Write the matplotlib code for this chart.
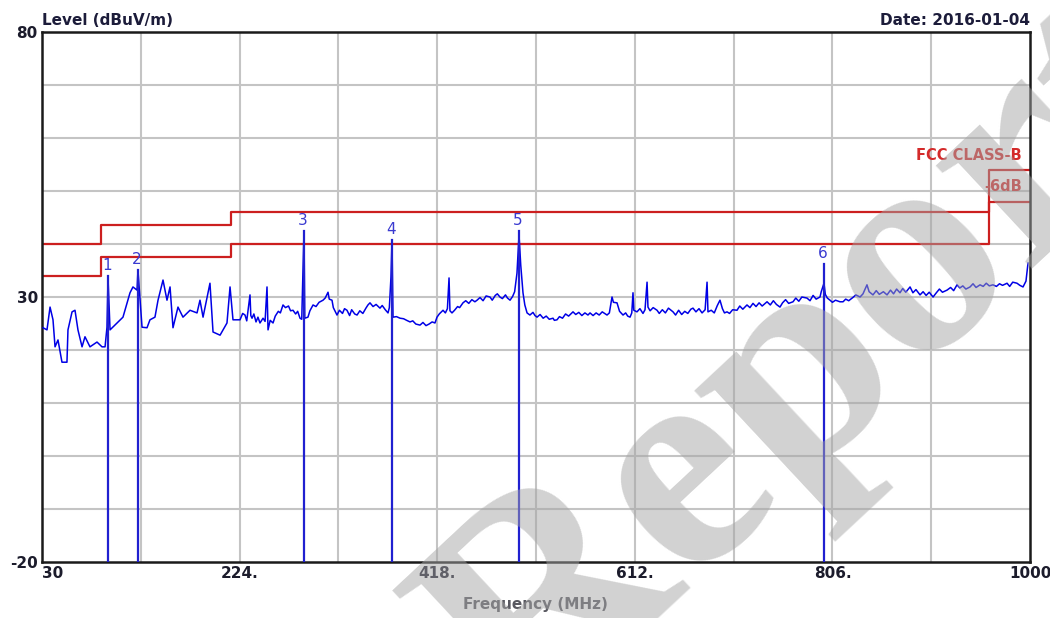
import matplotlib
matplotlib.use("Agg")
import matplotlib.pyplot as plt
import numpy as np

freq = [31.0, 34.9, 37.9, 40.8, 42.8, 45.7, 49.6, 54.5, 55.5, 59.5,
        62.4, 65.3, 69.3, 72.2, 77.1, 84.0, 88.9, 91.9, 93.8, 94.8,
        96.8, 103.6, 109.5, 116.4, 119.3, 123.3, 124.2, 128.2, 133.1, 136.0,
        140.9, 143.9, 148.8, 152.7, 155.7, 158.6, 163.5, 168.4, 175.3, 182.2,
        185.1, 188.1, 194.9, 197.9, 204.8, 211.6, 214.6, 217.5, 224.4, 227.0,
        229.3, 231.0, 234.2, 235.0, 236.2, 238.0, 240.1, 242.0, 244.0, 247.0,
        249.0, 250.9, 251.9, 254.0, 256.8, 259.0, 262.0, 264.0, 266.6, 269.0,
        272.0, 274.0, 276.4, 279.0, 281.0, 283.3, 285.0, 286.2, 287.2, 288.0,
        291.1, 293.0, 296.1, 299.0, 302.0, 305.9, 308.0, 310.8, 312.0, 314.7,
        316.0, 319.6, 322.0, 325.0, 327.0, 329.4, 332.0, 334.0, 337.0, 339.3,
        342.0, 345.0, 348.0, 350.0, 352.0, 355.0, 358.0, 361.8, 364.0, 367.0,
        369.7, 371.0, 372.6, 373.6, 374.6, 378.0, 381.5, 385.0, 388.0, 391.3,
        394.0, 397.0, 401.1, 404.0, 407.0, 410.0, 413.0, 415.8, 417.8, 420.0,
        423.7, 426.0, 428.0, 429.6, 430.5, 432.5, 435.0, 438.0, 440.0, 443.3,
        446.0, 449.0, 452.0, 455.0, 457.1, 460.0, 463.0, 466.0, 469.8, 472.0,
        475.0, 477.0, 479.6, 482.0, 485.0, 487.0, 489.5, 492.0, 494.0, 496.3,
        498.3, 500.0, 502.2, 504.0, 506.2, 509.0, 512.0, 514.0, 516.0, 519.0,
        522.0, 525.0, 528.0, 531.7, 533.0, 535.6, 538.0, 541.0, 544.0, 547.0,
        551.3, 554.0, 557.0, 560.0, 563.0, 566.0, 568.0, 571.0, 574.0, 577.0,
        580.0, 584.7, 587.0, 589.6, 591.0, 594.5, 597.0, 600.4, 603.0, 605.0,
        607.3, 609.0, 610.2, 611.0, 614.1, 617.0, 620.0, 622.0, 624.0, 624.9,
        627.0, 630.0, 633.8, 636.0, 639.0, 642.0, 645.0, 649.5, 652.0, 655.0,
        658.0, 661.0, 664.0, 667.0, 669.1, 672.0, 675.0, 678.0, 681.0, 682.9,
        683.8, 687.0, 690.0, 693.0, 695.6, 698.0, 700.0, 702.5, 705.0, 708.0,
        712.3, 715.0, 718.0, 722.1, 725.0, 728.0, 731.0, 734.0, 737.0, 741.8,
        745.0, 748.0, 751.0, 754.5, 757.0, 760.0, 763.0, 767.3, 770.0, 773.0,
        776.0, 781.0, 784.0, 787.0, 790.0, 793.8, 795.0, 797.7, 799.0, 801.0,
        803.6, 806.0, 809.0, 813.4, 816.4, 819.0, 822.0, 826.0, 829.0, 833.1,
        836.0, 839.9, 842.0, 845.8, 849.0, 852.0, 856.0, 859.6, 863.0, 866.0,
        869.0, 872.3, 875.0, 878.0, 882.2, 885.0, 888.0, 892.0, 895.0, 898.0,
        901.0, 904.8, 908.0, 911.0, 914.0, 918.5, 922.0, 925.0, 928.3, 931.0,
        934.0, 937.0, 941.1, 944.0, 947.0, 950.9, 954.0, 957.0, 960.0, 963.6,
        967.0, 970.0, 973.0, 977.4, 980.0, 983.0, 987.2, 990.0, 993.1, 996.0,
        998.0]
level = [24.2, 23.8, 28.1, 25.7, 20.6, 21.9, 17.7, 17.7, 23.8, 27.2,
         27.5, 23.8, 20.6, 22.5, 20.6, 21.5, 20.6, 20.6, 24.3, 33.6,
         23.8, 25.1, 26.2, 30.8, 31.9, 31.3, 35.1, 24.3, 24.2, 25.7,
         26.2, 29.4, 33.2, 29.4, 31.9, 24.2, 28.1, 26.2, 27.5, 27.0,
         29.4, 26.2, 32.6, 23.4, 22.8, 25.1, 31.9, 25.7, 25.7, 26.9,
         26.6, 25.5, 30.4, 26.5, 26.0, 26.8, 25.3, 26.2, 25.1, 26.0,
         25.4, 31.9, 23.8, 25.6, 25.1, 26.4, 27.3, 27.0, 28.5, 28.0,
         28.3, 27.4, 27.5, 26.8, 27.3, 26.0, 25.8, 34.5, 42.5, 26.0,
         26.2, 27.4, 28.5, 28.2, 29.0, 29.4, 29.8, 30.9, 29.6, 29.4,
         28.0, 26.6, 27.5, 26.9, 27.8, 27.5, 26.5, 27.6, 26.8, 26.6,
         27.4, 26.9, 27.9, 28.5, 28.9, 28.2, 28.6, 27.9, 28.4, 27.6,
         27.0, 28.0, 33.8, 40.8, 26.2, 26.3, 26.0, 25.9, 25.6, 25.3,
         25.5, 24.9, 24.7, 25.2, 24.6, 24.9, 25.3, 25.1, 26.2, 26.8,
         27.5, 27.0, 27.8, 33.6, 27.4, 27.0, 27.5, 28.2, 28.0, 28.9,
         29.3, 28.8, 29.5, 29.1, 29.4, 29.9, 29.3, 30.2, 30.0, 29.4,
         30.3, 30.6, 30.0, 29.7, 30.4, 29.8, 29.4, 30.1, 31.0, 34.5,
         41.7, 36.0, 30.8, 28.5, 27.0, 26.6, 27.1, 26.5, 26.2, 26.7,
         26.0, 26.4, 25.8, 26.0, 25.6, 25.7, 26.3, 26.0, 26.8, 26.4,
         27.2, 26.7, 27.1, 26.5, 27.0, 26.6, 27.0, 26.5, 27.0, 26.6,
         27.2, 26.6, 27.0, 30.0, 29.0, 28.9, 27.3, 26.6, 27.0, 26.4,
         26.2, 27.0, 30.8, 27.5, 27.2, 27.8, 26.9, 27.6, 32.8, 28.1,
         27.4, 28.0, 27.5, 26.9, 27.6, 27.0, 27.9, 27.2, 26.6, 27.5,
         26.7, 27.3, 26.9, 27.7, 27.9, 27.2, 27.8, 27.0, 27.6, 32.8,
         27.2, 27.5, 27.0, 28.4, 29.4, 27.8, 27.0, 27.2, 26.9, 27.6,
         27.5, 28.3, 27.7, 28.5, 28.0, 28.8, 28.2, 28.9, 28.3, 29.1,
         28.5, 29.3, 28.6, 28.1, 28.9, 29.5, 28.8, 29.1, 29.8, 29.2,
         30.0, 29.8, 29.3, 30.3, 29.6, 30.0, 31.0, 32.6, 30.5, 29.8,
         29.4, 29.0, 29.4, 29.1, 29.1, 29.6, 29.3, 29.9, 30.4, 30.0,
         30.6, 32.3, 31.0, 30.4, 31.2, 30.5, 31.0, 30.4, 31.3, 30.6,
         31.5, 30.8, 31.6, 30.9, 31.9, 30.8, 31.4, 30.4, 31.0, 30.3,
         30.9, 30.0, 30.8, 31.5, 30.9, 31.3, 31.8, 31.2, 32.3, 31.7,
         32.1, 31.5, 31.9, 32.5, 31.8, 32.3, 32.0, 32.6, 32.1, 32.3,
         32.0, 32.5, 32.2, 32.6, 32.0, 32.8, 32.6, 32.2, 31.9, 33.0,
         36.4]

# FCC class B limit and -6 dB margin (step edges)
lim_f = [30, 88, 88, 216, 216, 960, 960, 1000]
lim_l = [40, 40, 43.5, 43.5, 46, 46, 54, 54]
mar_l = [34, 34, 37.5, 37.5, 40, 40, 48, 48]

# markers
mk_f = [94.8, 124.2, 287.2, 373.6, 498.3, 797.7]
mk_l = [34.0, 35.1, 42.5, 40.8, 42.5, 36.2]

xticks = [30, 224, 418, 612, 806, 1000]
xlabels = ["30", "224.", "418.", "612.", "806.", "1000"]

fig = plt.figure(figsize=(10.5, 6.18), dpi=100)
ax = fig.add_axes([0.04, 0.0906, 0.941, 0.8576])

ax.set_xlim(30, 1000)
ax.set_ylim(-20, 80)
for gx in np.linspace(30, 1000, 11)[1:-1]:
    ax.axvline(gx, color='#c4c4c4', lw=1.5, zorder=0)
for gy in range(-10, 80, 10):
    ax.axhline(gy, color='#c4c4c4', lw=1.5, zorder=0)

ax.plot(lim_f, lim_l, color='#cc1f1f', lw=1.6, zorder=2)
ax.plot(lim_f, mar_l, color='#cc1f1f', lw=1.6, zorder=2)

ax.plot(freq, level, color='#0000e6', lw=1.1, zorder=3)

for i, (f, l) in enumerate(zip(mk_f, mk_l)):
    ax.plot([f, f], [-20, l], color='#2020d0', lw=1.6, zorder=4)
    ax.text(f - 1, l + 0.6, str(i + 1), color='#3a3ad0', fontsize=11,
            ha='center', va='bottom', zorder=5)

ax.text(992, 55.3, "FCC CLASS-B", color='#d42a2a', fontsize=10.5, weight='bold',
        ha='right', va='bottom')
ax.text(992, 49.5, "-6dB", color='#d42a2a', fontsize=10.5, weight='bold',
        ha='right', va='bottom')

ax.set_xticks(xticks)
ax.set_xticklabels(xlabels, fontsize=11, weight='bold', color='#1c1c2c')
ax.get_xticklabels()[0].set_ha('left')
ax.set_yticks([-20, 30, 80])
ax.set_yticklabels(["-20", "30", "80"], fontsize=11, weight='bold', color='#1c1c2c')
ax.tick_params(length=0, pad=3)
for s in ax.spines.values():
    s.set_linewidth(1.8)
    s.set_color('#1a1a1a')

fig.text(0.04, 0.955, "Level (dBuV/m)", fontsize=11, weight='bold', color='#1c1c3a',
         ha='left', va='bottom')
fig.text(0.981, 0.955, "Date: 2016-01-04", fontsize=11, weight='bold', color='#1c1c3a',
         ha='right', va='bottom')
fig.text(0.51, 0.01, "Frequency (MHz)", fontsize=11, weight='bold', color='#585860',
         ha='center', va='bottom')

# watermark
fig.text(0.773, 0.405, "Report", rotation=43, rotation_mode='anchor', fontsize=222,
         family='Liberation Serif', weight='bold', color='#a5a5a5', alpha=0.5,
         ha='center', va='center', zorder=10)

fig.savefig("out.png", dpi=100)
